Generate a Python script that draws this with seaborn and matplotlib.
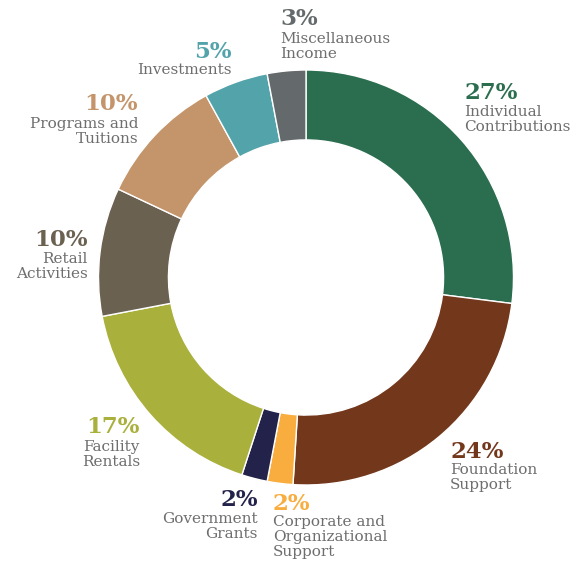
import matplotlib
matplotlib.use('Agg')
import matplotlib.pyplot as plt
import seaborn as sns

# Revenue sources, clockwise from the top
categories = ['Individual\nContributions', 'Foundation\nSupport',
              'Corporate and\nOrganizational\nSupport', 'Government\nGrants',
              'Facility\nRentals', 'Retail\nActivities', 'Programs and\nTuitions',
              'Investments', 'Miscellaneous\nIncome']
shares = [27, 24, 2, 2, 17, 10, 10, 5, 3]
pct_labels = ['27%', '24%', '2%', '2%', '17%', '10%', '10%', '5%', '3%']
hex_colors = ['#2b6e4f', '#73381c', '#f8ad3e', '#23224b', '#a9b03b',
              '#6b6151', '#c4946a', '#53a3ab', '#646a6b']

# label layout in pixels of the 586x565 canvas: x, baseline of pct, top of name, alignment
label_x = [464, 450, 273, 258, 140, 88, 138, 232, 280]
pct_base = [99, 458, 510, 506, 433, 246, 110, 58, 25]
name_top = [105, 463, 515, 512, 440, 252, 117, 63, 32]
align = ['left', 'left', 'left', 'right', 'right', 'right', 'right', 'right', 'left']

sns.set_theme(style='white')
plt.rcParams['font.family'] = ['DejaVu Serif']

palette = sns.color_palette(hex_colors)

W, H = 586, 565
cx, cy, R = 306, 277.5, 207.5

fig = plt.figure(figsize=(W / 100, H / 100), dpi=100)
ax = fig.add_axes([(cx - R) / W, (H - cy - R) / H, 2 * R / W, 2 * R / H])

ax.pie(shares, colors=palette, startangle=90, counterclock=False, radius=1,
       wedgeprops=dict(width=0.337, edgecolor='white', linewidth=1))
ax.set_xlim(-1, 1)
ax.set_ylim(-1, 1)
ax.set_aspect('equal')
ax.axis('off')

def to_data(px, py):
    return (px - cx) / R, (cy - py) / R

for i, name in enumerate(categories):
    x, y = to_data(label_x[i], pct_base[i])
    ax.text(x, y, pct_labels[i], ha=align[i], va='baseline', fontsize=16.5,
            fontweight='bold', color=palette[i], clip_on=False)
    x, y = to_data(label_x[i], name_top[i])
    ax.text(x, y, name, ha=align[i], va='top', multialignment=align[i],
            fontsize=11, linespacing=1.1, color='#6e6e6e', clip_on=False)

fig.savefig('out.png', dpi=100)
